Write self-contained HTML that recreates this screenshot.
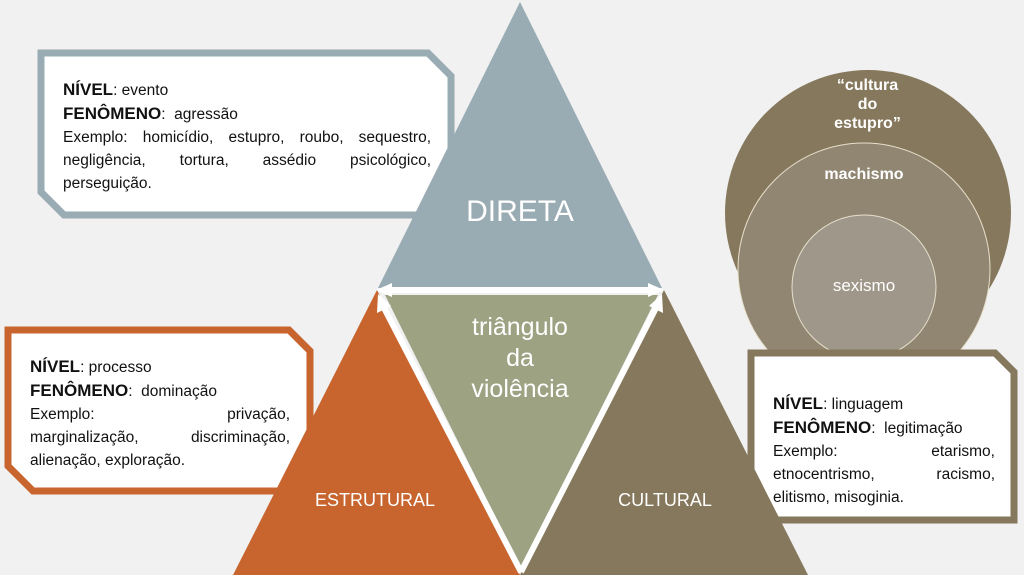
<!DOCTYPE html>
<html><head><meta charset="utf-8"><style>
body{margin:0;width:1024px;height:575px;background:#f1f1f1;overflow:hidden;position:relative;font-family:"Liberation Sans",sans-serif}
.t{position:absolute;font-size:15.5px;line-height:23px;color:#111}
.t b{font-size:17px}
.j{text-align:justify;text-align-last:justify;white-space:nowrap}
.w{position:absolute;color:#fff;text-align:center}
</style></head><body>
<svg width="1024" height="575" style="position:absolute;left:0;top:0">
<polygon points="41,53 428,53 451,76 451,215 64,215 41,192" fill="#fff" stroke="#9aacb3" stroke-width="7"/>
<polygon points="8,330 289,330 310,351 310,491 33,491 8,466" fill="#fff" stroke="#c8652f" stroke-width="7"/>
<circle cx="868" cy="213" r="143" fill="#85785c"/>
<circle cx="864" cy="269" r="126" fill="#918672" stroke="#e8e0cc" stroke-width="1"/>
<circle cx="864" cy="287" r="72" fill="#9f978a" stroke="#e8e0cc" stroke-width="1"/>
<polygon points="751,353 995,353 1014,372 1014,520 751,520" fill="#fff" stroke="#85785c" stroke-width="7"/>
<polygon points="520,2 662,288 378,288" fill="#9aacb3"/>
<polygon points="377,290 520,575 233,575" fill="#c8652f"/>
<polygon points="664,290 808,575 520,575" fill="#85785c"/>
<polygon points="385,295 658,295 521,568" fill="#9ca282"/>
<g stroke="#fff" stroke-width="6" fill="#fff">
<line x1="388" y1="290" x2="652" y2="290"/>
<line x1="383" y1="306" x2="521" y2="572"/>
<line x1="657" y1="306" x2="521" y2="572"/>
</g>
<g fill="#fff">
<polygon points="376,290 392,283 392,297"/>
<polygon points="664,290 648,283 648,297"/>
<polygon points="378,294 377,313 391,306"/>
<polygon points="662,294 663,313 649,306"/>
</g>
</svg>
<div class="t" style="left:63px;top:78px;width:368px"><b>NÍVEL</b>: evento<br><b>FENÔMENO</b>:&nbsp; agressão
<div class="j">Exemplo: homicídio, estupro, roubo, sequestro,</div><div class="j">negligência, tortura, assédio psicológico,</div><div>perseguição.</div></div>
<div class="t" style="left:30px;top:355px;width:260px"><b>NÍVEL</b>: processo<br><b>FENÔMENO</b>:&nbsp; dominação
<div class="j">Exemplo: privação,</div><div class="j">marginalização, discriminação,</div><div>alienação, exploração.</div></div>
<div class="t" style="left:773px;top:392px;width:222px"><b>NÍVEL</b>: linguagem<br><b>FENÔMENO</b>:&nbsp; legitimação
<div class="j">Exemplo: etarismo,</div><div class="j">etnocentrismo, racismo,</div><div>elitismo, misoginia.</div></div>
<div class="w" style="left:420px;top:195px;width:200px;font-size:30px">DIRETA</div>
<div class="w" style="left:420px;top:312px;width:200px;font-size:25px;line-height:31px">triângulo<br>da<br>violência</div>
<div class="w" style="left:290px;top:490px;width:170px;font-size:18px">ESTRUTURAL</div>
<div class="w" style="left:580px;top:490px;width:170px;font-size:18px">CULTURAL</div>
<div class="w" style="left:800px;top:76px;width:135px;font-size:16px;font-weight:bold;line-height:19px">“cultura<br>do<br>estupro”</div>
<div class="w" style="left:790px;top:166px;width:148px;font-size:16px;font-weight:bold">machismo</div>
<div class="w" style="left:790px;top:276px;width:148px;font-size:17px">sexismo</div>
</body></html>
